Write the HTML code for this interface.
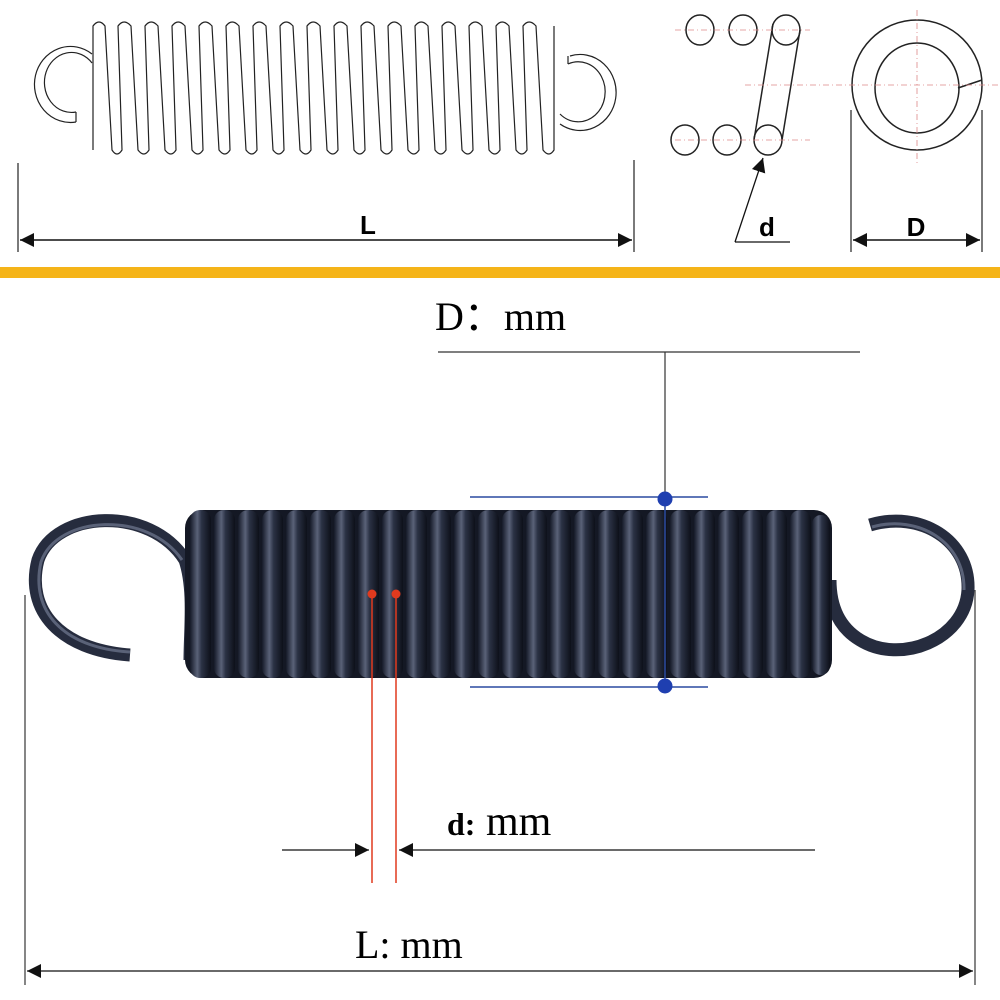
<!DOCTYPE html>
<html><head><meta charset="utf-8"><style>
body{margin:0;background:#fff;}
svg{display:block;font-family:"Liberation Sans",sans-serif;}
</style></head><body>
<svg width="1000" height="1000" viewBox="0 0 1000 1000" xmlns="http://www.w3.org/2000/svg">
<defs>
<marker id="a" viewBox="0 0 10 10" refX="10" refY="5" markerWidth="9" markerHeight="9" orient="auto-start-reverse"><path d="M0,1 L10,5 L0,9 z" fill="#111"/></marker>
<marker id="b" viewBox="0 0 10 10" refX="10" refY="5" markerWidth="14" markerHeight="14" orient="auto-start-reverse" markerUnits="userSpaceOnUse"><path d="M0,0 L10,5 L0,10 z" fill="#111"/></marker>
<linearGradient id="cg" x1="0" y1="0" x2="1" y2="0">
<stop offset="0" stop-color="#151a28"/><stop offset="0.35" stop-color="#5a6278"/><stop offset="0.55" stop-color="#2b3245"/><stop offset="1" stop-color="#0d1019"/>
</linearGradient>
</defs>
<!-- top drawing hooks -->
<g fill="none" stroke="#222" stroke-width="1.2">
<path d="M76,122 A36,38 0 1 1 92,54"/>
<path d="M76,112 A27,30 0 1 1 92,63"/>
<line x1="76" y1="112" x2="76" y2="122"/>
<path d="M570,56 A36,38 0 1 1 560,124"/>
<path d="M568,64 A27,30 0 1 1 560,114"/>
<line x1="568" y1="56" x2="568" y2="64"/>
</g>
<g fill="none" stroke="#222" stroke-width="1.2">
<path d="M93,150 L93,26 Q99,18 105,26 L112,150 Q117,158 122,150 L118,26 Q124,18 131,26 L138,150 Q144,158 149,150 L145,26 Q151,18 158,26 L165,150 Q171,158 176,150 L172,26 Q178,18 185,26 L192,150 Q198,158 203,150 L199,26 Q205,18 212,26 L219,150 Q225,158 230,150 L226,26 Q232,18 239,26 L246,150 Q252,158 257,150 L253,26 Q259,18 266,26 L273,150 Q279,158 284,150 L280,26 Q286,18 293,26 L300,150 Q306,158 311,150 L307,26 Q313,18 320,26 L327,150 Q333,158 338,150 L334,26 Q340,18 347,26 L354,150 Q360,158 365,150 L361,26 Q367,18 374,26 L381,150 Q387,158 392,150 L388,26 Q394,18 401,26 L408,150 Q414,158 419,150 L415,26 Q421,18 428,26 L435,150 Q441,158 446,150 L442,26 Q448,18 455,26 L462,150 Q468,158 473,150 L469,26 Q475,18 482,26 L489,150 Q495,158 500,150 L496,26 Q502,18 509,26 L516,150 Q522,158 527,150 L523,26 Q529,18 536,26 L543,150 Q549,158 554,150 L554,26"/>
<line x1="18" y1="163" x2="18" y2="252"/><line x1="634" y1="160" x2="634" y2="252"/>
</g>
<line x1="20" y1="240" x2="632" y2="240" stroke="#111" stroke-width="1.5" marker-start="url(#b)" marker-end="url(#b)"/>
<text x="368" y="234" font-size="26" font-weight="bold" text-anchor="middle">L</text>
<g fill="none" stroke="#222" stroke-width="1.5">
<ellipse cx="700" cy="30" rx="14" ry="15"/><ellipse cx="743" cy="30" rx="14" ry="15"/><ellipse cx="786" cy="30" rx="14" ry="15"/>
<ellipse cx="685" cy="140" rx="14" ry="15"/><ellipse cx="727" cy="140" rx="14" ry="15"/><ellipse cx="768" cy="140" rx="14" ry="15"/>
<line x1="773" y1="24" x2="754" y2="140"/><line x1="800" y1="30" x2="782" y2="140"/>
<ellipse cx="917" cy="85" rx="65" ry="65"/><ellipse cx="917" cy="88" rx="42" ry="45"/>
<line x1="958" y1="88" x2="982" y2="80"/>
</g>
<g stroke="#d88" stroke-width="0.8" stroke-dasharray="6,3,1,3">
<line x1="675" y1="30" x2="810" y2="30"/><line x1="675" y1="140" x2="810" y2="140"/>
<line x1="745" y1="85" x2="1000" y2="85"/><line x1="917" y1="10" x2="917" y2="165"/>
</g>
<line x1="735" y1="242" x2="763" y2="158" stroke="#111" stroke-width="1.3" marker-end="url(#b)"/>
<line x1="735" y1="242" x2="790" y2="242" stroke="#111" stroke-width="1.3"/>
<text x="767" y="236" font-size="26" font-weight="bold" text-anchor="middle">d</text>
<line x1="851" y1="110" x2="851" y2="252" stroke="#222" stroke-width="1.2"/>
<line x1="982" y1="110" x2="982" y2="252" stroke="#222" stroke-width="1.2"/>
<line x1="853" y1="240" x2="980" y2="240" stroke="#111" stroke-width="1.5" marker-start="url(#b)" marker-end="url(#b)"/>
<text x="916" y="236" font-size="26" font-weight="bold" text-anchor="middle">D</text>
<rect x="0" y="267" width="1000" height="11" fill="#f5b418"/>
<!-- bottom photo -->
<text x="435" y="330" font-size="40" font-family="Liberation Serif,serif">D：mm</text>
<line x1="438" y1="352" x2="860" y2="352" stroke="#333" stroke-width="1.2"/>
<line x1="665" y1="352" x2="665" y2="500" stroke="#333" stroke-width="1.2"/>
<g fill="none" stroke="#262c3e" stroke-width="13" stroke-linecap="butt">
<path d="M130,655 C60,650 25,610 38,560 C55,510 150,505 185,560 C195,590 190,630 190,660"/>
<path d="M870,525 C920,510 970,540 968,590 C965,640 900,665 860,640 C835,625 830,600 830,580"/>
</g>
<g fill="none" stroke="#5a6278" stroke-width="3">
<path d="M130,652 C62,648 30,610 41,562 C57,515 148,510 182,560"/>
<path d="M872,527 C918,514 965,542 964,590"/>
</g>
<rect x="185" y="510" width="647" height="168" rx="18" fill="#141824"/>
<g>
<rect x="190" y="510" width="21" height="168" rx="10" fill="url(#cg)"/><rect x="214" y="510" width="21" height="168" rx="10" fill="url(#cg)"/><rect x="238" y="510" width="21" height="168" rx="10" fill="url(#cg)"/><rect x="262" y="510" width="21" height="168" rx="10" fill="url(#cg)"/><rect x="286" y="510" width="21" height="168" rx="10" fill="url(#cg)"/><rect x="310" y="510" width="21" height="168" rx="10" fill="url(#cg)"/><rect x="334" y="510" width="21" height="168" rx="10" fill="url(#cg)"/><rect x="358" y="510" width="21" height="168" rx="10" fill="url(#cg)"/><rect x="382" y="510" width="21" height="168" rx="10" fill="url(#cg)"/><rect x="406" y="510" width="21" height="168" rx="10" fill="url(#cg)"/><rect x="430" y="510" width="21" height="168" rx="10" fill="url(#cg)"/><rect x="454" y="510" width="21" height="168" rx="10" fill="url(#cg)"/><rect x="478" y="510" width="21" height="168" rx="10" fill="url(#cg)"/><rect x="502" y="510" width="21" height="168" rx="10" fill="url(#cg)"/><rect x="526" y="510" width="21" height="168" rx="10" fill="url(#cg)"/><rect x="550" y="510" width="21" height="168" rx="10" fill="url(#cg)"/><rect x="574" y="510" width="21" height="168" rx="10" fill="url(#cg)"/><rect x="598" y="510" width="21" height="168" rx="10" fill="url(#cg)"/><rect x="622" y="510" width="21" height="168" rx="10" fill="url(#cg)"/><rect x="646" y="510" width="21" height="168" rx="10" fill="url(#cg)"/><rect x="670" y="510" width="21" height="168" rx="10" fill="url(#cg)"/><rect x="694" y="510" width="21" height="168" rx="10" fill="url(#cg)"/><rect x="718" y="510" width="21" height="168" rx="10" fill="url(#cg)"/><rect x="742" y="510" width="21" height="168" rx="10" fill="url(#cg)"/><rect x="766" y="510" width="21" height="168" rx="10" fill="url(#cg)"/><rect x="790" y="510" width="21" height="168" rx="10" fill="url(#cg)"/><rect x="812" y="515" width="18" height="160" rx="9" fill="url(#cg)"/>
</g>
<line x1="470" y1="497" x2="708" y2="497" stroke="#2a4aa0" stroke-width="1.5"/>
<line x1="470" y1="687" x2="708" y2="687" stroke="#2a4aa0" stroke-width="1.5"/>
<line x1="665" y1="499" x2="665" y2="686" stroke="#2a4aa0" stroke-width="1.5"/>
<circle cx="665" cy="499" r="7.5" fill="#1f3fb0"/><circle cx="665" cy="686" r="7.5" fill="#1f3fb0"/>
<line x1="372" y1="594" x2="372" y2="883" stroke="#e03a1e" stroke-width="1.5"/>
<line x1="396" y1="594" x2="396" y2="883" stroke="#e03a1e" stroke-width="1.5"/>
<circle cx="372" cy="594" r="4.5" fill="#e03a1e"/><circle cx="396" cy="594" r="4.5" fill="#e03a1e"/>
<text x="447" y="835" font-family="Liberation Serif,serif"><tspan font-size="32" font-weight="bold">d:</tspan><tspan font-size="42"> mm</tspan></text>
<line x1="282" y1="850" x2="369" y2="850" stroke="#111" stroke-width="1.3" marker-end="url(#b)"/>
<line x1="815" y1="850" x2="399" y2="850" stroke="#111" stroke-width="1.3" marker-end="url(#b)"/>
<line x1="25" y1="595" x2="25" y2="985" stroke="#444" stroke-width="1.3"/>
<line x1="975" y1="590" x2="975" y2="985" stroke="#444" stroke-width="1.3"/>
<line x1="27" y1="971" x2="973" y2="971" stroke="#111" stroke-width="1.3" marker-start="url(#b)" marker-end="url(#b)"/>
<text x="355" y="958" font-size="40" font-family="Liberation Serif,serif">L:  mm</text>
</svg>
</body></html>
